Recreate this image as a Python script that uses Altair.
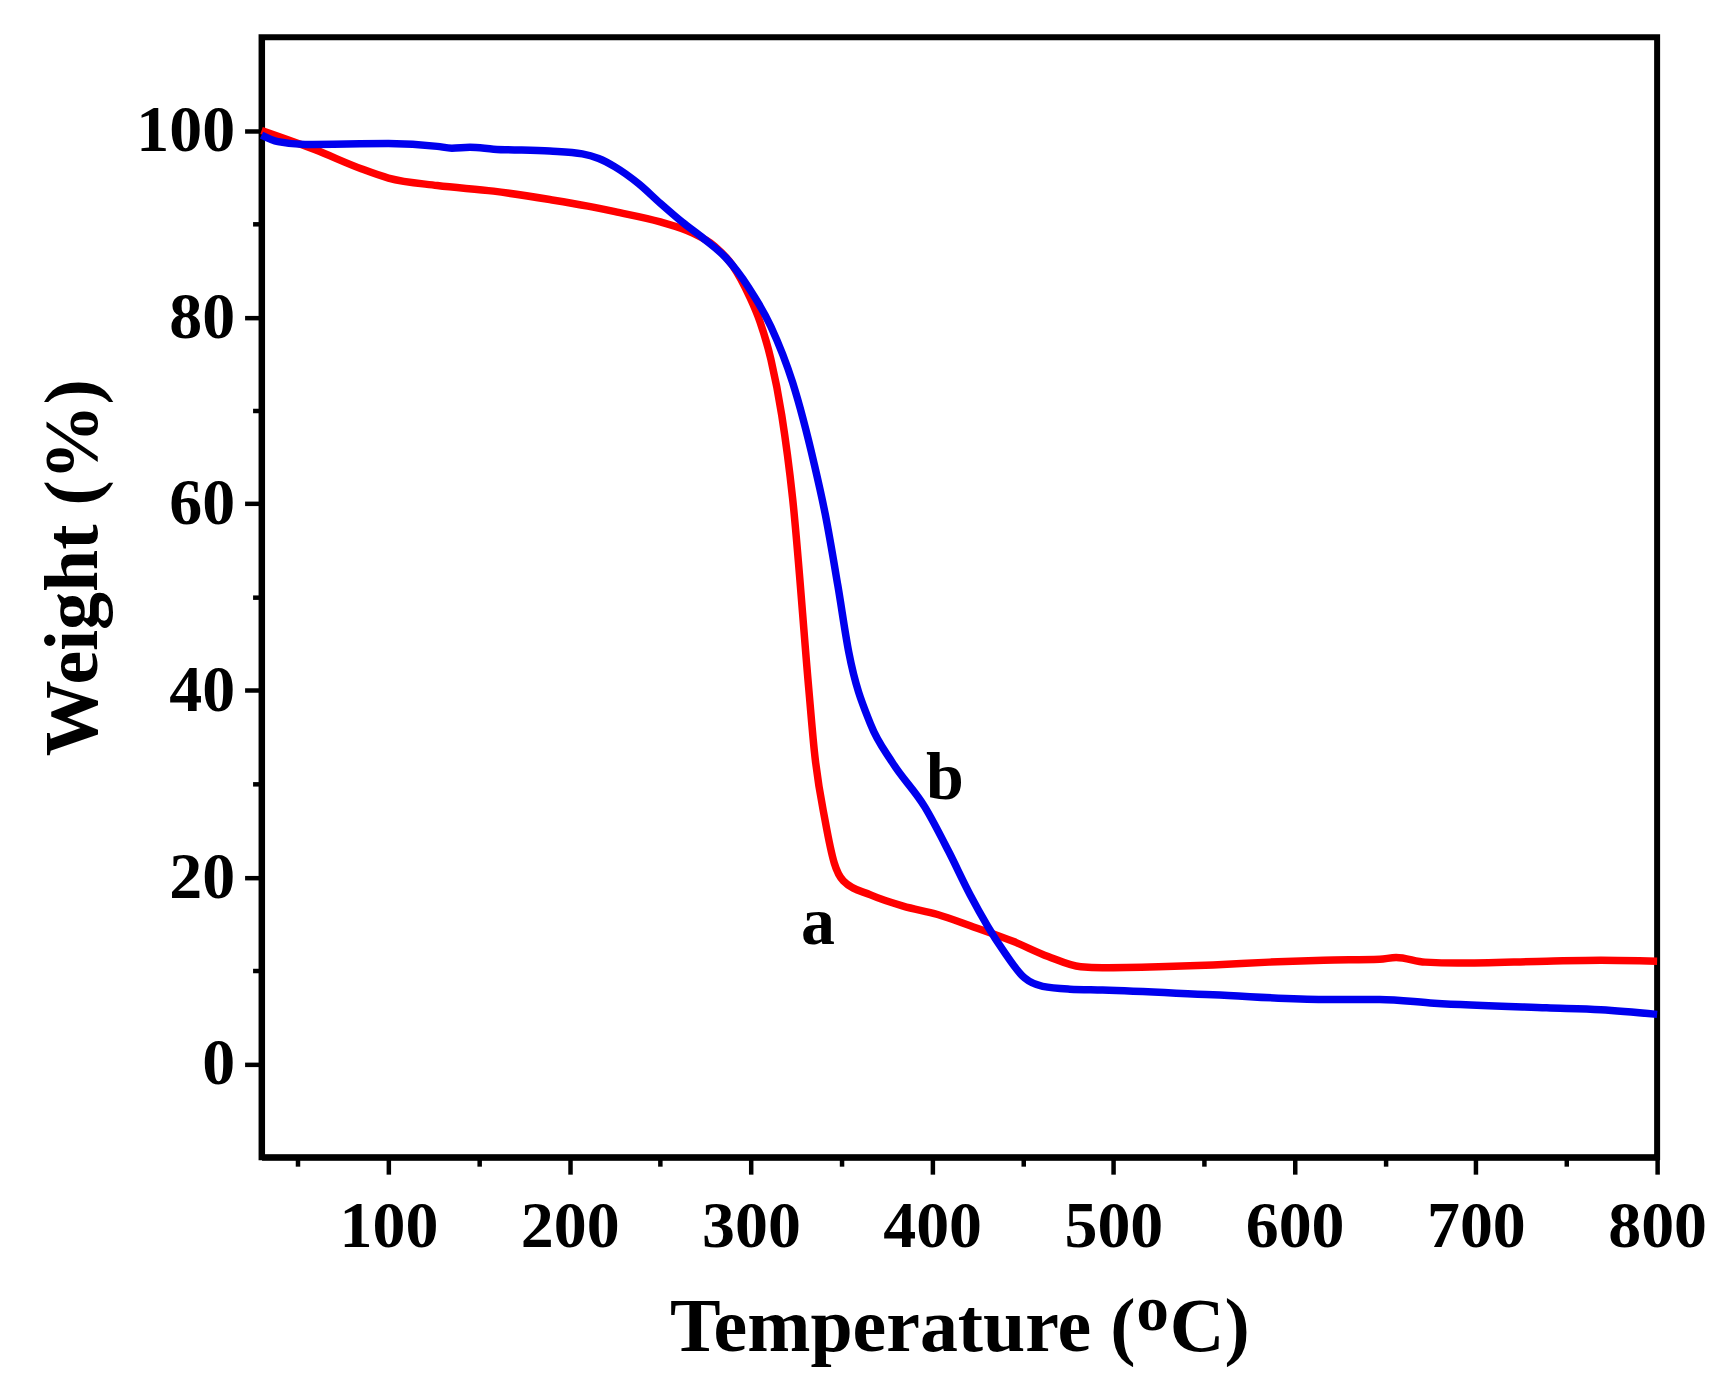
import altair as alt
import pandas as pd

# Curve a (red)
temp_a = [30, 60, 85, 100, 127, 158, 189, 210, 225, 250, 268, 280, 290, 299, 305, 311, 317, 323, 332, 335,
          341, 346, 351, 366, 384, 403, 421, 445, 464, 482, 494, 525, 555, 586, 616, 647, 656, 672, 690, 739,
          769, 800]
weight_a = [100, 97.9, 95.9, 94.9, 94.1, 93.5, 92.6, 91.9, 91.3, 90.2, 89.0, 87.6, 85.5, 82.3, 79.5, 75.5, 69.5, 60.6, 40.0, 33.5,
            26.0, 21.5, 19.6, 18.1, 16.9, 16.0, 14.8, 13.1, 11.5, 10.4, 10.3, 10.4, 10.6, 10.9, 11.1, 11.2, 11.4, 10.9, 10.8, 11.0,
            11.1, 11.0]

# Curve b (blue)
temp_b = [30, 39, 54, 100, 127, 135, 145, 158, 189, 207, 216, 225, 238, 250, 262, 274, 286, 299, 311, 323,
          335, 341, 348, 354, 366, 378, 396, 409, 421, 439, 451, 461, 476, 494, 555, 616, 647, 677, 739, 769,
          800]
weight_b = [99.5, 98.8, 98.5, 98.6, 98.3, 98.1, 98.2, 98.0, 97.8, 97.5, 97.0, 96.1, 94.3, 92.2, 90.2, 88.4, 86.4, 83.1, 79.0, 73.0,
            64.2, 58.9, 51.2, 44.1, 36.4, 32.3, 27.5, 22.8, 18.1, 12.2, 9.2, 8.3, 8.0, 7.9, 7.4, 6.9, 6.9, 6.5, 6.0, 5.8,
            5.3]

series_names = ["a", "b"]
series_colors = ["#ff0000", "#0000ee"]

# Curve labels
label_text = ["a", "b"]
label_x = [337, 407]
label_y = [15.0, 30.5]

x_ticks = list(range(50, 801, 50))
y_ticks = list(range(0, 101, 10))

df = pd.concat([
    pd.DataFrame({"T": temp_a, "W": weight_a, "s": "a", "o": range(len(temp_a))}),
    pd.DataFrame({"T": temp_b, "W": weight_b, "s": "b", "o": range(len(temp_b))}),
])
lab = pd.DataFrame({"T": label_x, "W": label_y, "t": label_text})

FONT = "Liberation Serif"

xscale = alt.Scale(domain=[30, 800], nice=False, zero=False)
yscale = alt.Scale(domain=[-10, 110], nice=False, zero=False)

xaxis = alt.Axis(
    values=x_ticks,
    labelExpr="datum.value % 100 == 0 ? datum.label : ''",
    tickSize={"condition": {"test": "datum.value % 100 != 0", "value": 9}, "value": 17},
    labelOverlap=False,
    labelFlush=False,
    labelBound=False,
    labelPadding=20,
    title="Temperature (ᴼC)",
    titleBaseline="alphabetic",
    titleY=194,
)
yaxis = alt.Axis(
    values=y_ticks,
    labelExpr="datum.value % 20 == 0 ? datum.label : ''",
    tickSize={"condition": {"test": "datum.value % 20 != 0", "value": 9}, "value": 17},
    labelOverlap=False,
    labelFlush=False,
    labelBound=False,
    labelPadding=10,
    title="Weight (%)",
    titleAngle=270,
    titleBaseline="alphabetic",
    titleAlign="center",
    titleX=-165,
    titleY=531,
)

lines = alt.Chart(df).mark_line(strokeWidth=7.5, interpolate="monotone").encode(
    x=alt.X("T:Q", scale=xscale, axis=xaxis),
    y=alt.Y("W:Q", scale=yscale, axis=yaxis),
    color=alt.Color("s:N", scale=alt.Scale(domain=series_names, range=series_colors), legend=None),
    order="o:Q",
)

texts = alt.Chart(lab).mark_text(font=FONT, fontWeight="bold", fontSize=68, color="black",
                                 align="center", baseline="middle").encode(
    x=alt.X("T:Q", scale=xscale),
    y=alt.Y("W:Q", scale=yscale),
    text="t:N",
)

chart = alt.layer(lines, texts).properties(
    width=1398,
    height=1122,
    autosize=alt.AutoSizeParams(type="none"),
    padding={"left": 254, "top": 28, "right": 70, "bottom": 220},
    background="white",
).configure_view(
    stroke="black", strokeWidth=6
).configure_axis(
    grid=False,
    domainColor="black", domainWidth=6,
    tickColor="black", tickWidth=4.5,
    labelFont=FONT, labelFontWeight="bold", labelFontSize=66, labelColor="black",
    titleFont=FONT, titleFontWeight="bold", titleFontSize=76, titleColor="black",
)

chart.save("out.html", embed_options={"renderer": "svg", "actions": False})
